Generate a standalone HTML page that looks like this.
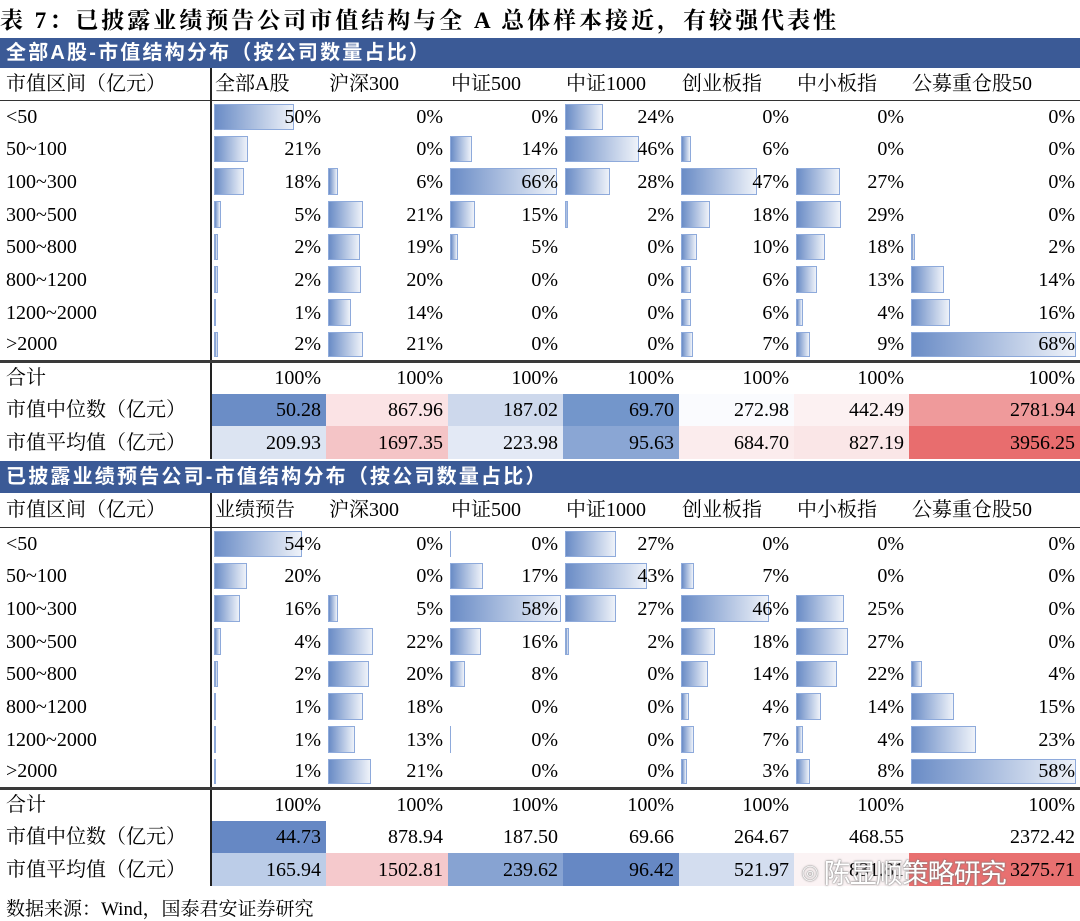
<!DOCTYPE html>
<html><head><meta charset="utf-8">
<style>
*{margin:0;padding:0;box-sizing:border-box}
body{width:1080px;height:919px;background:#fff;position:relative;overflow:hidden;font-family:"Liberation Serif","Noto Serif CJK SC",serif;color:#000}
.title{position:absolute;left:0;top:2px;font-size:23px;font-weight:bold;letter-spacing:3px;white-space:nowrap;font-family:"Liberation Serif","Noto Serif CJK SC",serif}
.bar{position:absolute;left:0;width:1080px;background:#3b5a96;color:#fff;font-size:20px;font-weight:bold;letter-spacing:2.2px;padding-left:6px;font-family:"Liberation Sans","Noto Sans CJK SC",sans-serif;white-space:nowrap}
table{position:absolute;left:0;border-collapse:collapse;table-layout:fixed;width:1080px;font-size:20px}
td{padding:0 5px 0 0;text-align:right;white-space:nowrap;position:relative;vertical-align:middle;line-height:20px}
td.l{text-align:left;padding-left:6px;border-right:2px solid #222}
td.h{text-align:left;padding-left:3px}
tr.hd td{border-bottom:1.5px solid #333}
tr.last td{border-bottom:3px solid #3a3a3a}
td i{position:absolute;left:2px;top:3px;bottom:3px;background:linear-gradient(to right,#6a8cc6,#eef2f9);border:1px solid #8eaadb;z-index:0}
td span{position:relative;z-index:1}
.wm{position:absolute;left:802px;top:852px;font-size:27px;color:#fff;font-family:"Liberation Sans","Noto Sans CJK SC",sans-serif;text-shadow:0 0 1px #777,0 0 2px #777;letter-spacing:-1px}
.src{position:absolute;left:6px;top:894px;font-size:19px;white-space:nowrap}
</style></head><body>
<div class="title">表 7：已披露业绩预告公司市值结构与全 A 总体样本接近，有较强代表性</div>

<div class="bar" style="top:38px;height:30px;line-height:30px">全部A股-市值结构分布（按公司数量占比）</div>
<table style="top:68px">
<colgroup><col style="width:211px"><col style="width:115px"><col style="width:122px"><col style="width:115px"><col style="width:116px"><col style="width:115px"><col style="width:115px"><col style="width:171px"></colgroup>
<tr class="hd" style="height:32px"><td class="l">市值区间（亿元）</td><td class="h">全部A股</td><td class="h">沪深300</td><td class="h">中证500</td><td class="h">中证1000</td><td class="h">创业板指</td><td class="h">中小板指</td><td class="h">公募重仓股50</td></tr>
<tr style="height:33px"><td class="l">&lt;50</td><td><i style="width:80px"></i><span>50%</span></td><td><span>0%</span></td><td><span>0%</span></td><td><i style="width:38px"></i><span>24%</span></td><td><span>0%</span></td><td><span>0%</span></td><td><span>0%</span></td></tr>
<tr style="height:32px"><td class="l">50~100</td><td><i style="width:34px"></i><span>21%</span></td><td><span>0%</span></td><td><i style="width:22px"></i><span>14%</span></td><td><i style="width:74px"></i><span>46%</span></td><td><i style="width:10px"></i><span>6%</span></td><td><span>0%</span></td><td><span>0%</span></td></tr>
<tr style="height:33px"><td class="l">100~300</td><td><i style="width:30px"></i><span>18%</span></td><td><i style="width:10px"></i><span>6%</span></td><td><i style="width:107px"></i><span>66%</span></td><td><i style="width:45px"></i><span>28%</span></td><td><i style="width:76px"></i><span>47%</span></td><td><i style="width:44px"></i><span>27%</span></td><td><span>0%</span></td></tr>
<tr style="height:33px"><td class="l">300~500</td><td><i style="width:7px"></i><span>5%</span></td><td><i style="width:35px"></i><span>21%</span></td><td><i style="width:25px"></i><span>15%</span></td><td><i style="width:3px"></i><span>2%</span></td><td><i style="width:29px"></i><span>18%</span></td><td><i style="width:45px"></i><span>29%</span></td><td><span>0%</span></td></tr>
<tr style="height:32px"><td class="l">500~800</td><td><i style="width:4px"></i><span>2%</span></td><td><i style="width:32px"></i><span>19%</span></td><td><i style="width:8px"></i><span>5%</span></td><td><span>0%</span></td><td><i style="width:16px"></i><span>10%</span></td><td><i style="width:29px"></i><span>18%</span></td><td><i style="width:4px"></i><span>2%</span></td></tr>
<tr style="height:33px"><td class="l">800~1200</td><td><i style="width:4px"></i><span>2%</span></td><td><i style="width:33px"></i><span>20%</span></td><td><span>0%</span></td><td><span>0%</span></td><td><i style="width:10px"></i><span>6%</span></td><td><i style="width:21px"></i><span>13%</span></td><td><i style="width:33px"></i><span>14%</span></td></tr>
<tr style="height:33px"><td class="l">1200~2000</td><td><i style="width:2px"></i><span>1%</span></td><td><i style="width:23px"></i><span>14%</span></td><td><span>0%</span></td><td><span>0%</span></td><td><i style="width:10px"></i><span>6%</span></td><td><i style="width:7px"></i><span>4%</span></td><td><i style="width:39px"></i><span>16%</span></td></tr>
<tr class="last" style="height:32px"><td class="l">&gt;2000</td><td><i style="width:4px"></i><span>2%</span></td><td><i style="width:35px"></i><span>21%</span></td><td><span>0%</span></td><td><span>0%</span></td><td><i style="width:12px"></i><span>7%</span></td><td><i style="width:14px"></i><span>9%</span></td><td><i style="width:165px"></i><span>68%</span></td></tr>
<tr style="height:33px"><td class="l">合计</td><td>100%</td><td>100%</td><td>100%</td><td>100%</td><td>100%</td><td>100%</td><td>100%</td></tr>
<tr style="height:32px"><td class="l">市值中位数（亿元）</td><td style="background:#6b8dc6">50.28</td><td style="background:#fbe3e5">867.96</td><td style="background:#cdd8ec">187.02</td><td style="background:#7396cb">69.70</td><td style="background:#fafbfe">272.98</td><td style="background:#fcf1f2">442.49</td><td style="background:#ef9a9b">2781.94</td></tr>
<tr style="height:33px"><td class="l">市值平均值（亿元）</td><td style="background:#dce4f2">209.93</td><td style="background:#f4c4c6">1697.35</td><td style="background:#e3e9f5">223.98</td><td style="background:#8aa6d4">95.63</td><td style="background:#fbeced">684.70</td><td style="background:#fae6e7">827.19</td><td style="background:#e86d6e">3956.25</td></tr>
</table>

<div class="bar" style="top:461px;height:32px;line-height:32px">已披露业绩预告公司-市值结构分布（按公司数量占比）</div>
<table style="top:493px">
<colgroup><col style="width:211px"><col style="width:115px"><col style="width:122px"><col style="width:115px"><col style="width:116px"><col style="width:115px"><col style="width:115px"><col style="width:171px"></colgroup>
<tr class="hd" style="height:34px"><td class="l">市值区间（亿元）</td><td class="h">业绩预告</td><td class="h">沪深300</td><td class="h">中证500</td><td class="h">中证1000</td><td class="h">创业板指</td><td class="h">中小板指</td><td class="h">公募重仓股50</td></tr>
<tr style="height:33px"><td class="l">&lt;50</td><td><i style="width:88px"></i><span>54%</span></td><td><span>0%</span></td><td><i style="width:1px;border-width:0 0 0 1px"></i><span>0%</span></td><td><i style="width:51px"></i><span>27%</span></td><td><span>0%</span></td><td><span>0%</span></td><td><span>0%</span></td></tr>
<tr style="height:32px"><td class="l">50~100</td><td><i style="width:33px"></i><span>20%</span></td><td><span>0%</span></td><td><i style="width:33px"></i><span>17%</span></td><td><i style="width:82px"></i><span>43%</span></td><td><i style="width:13px"></i><span>7%</span></td><td><span>0%</span></td><td><span>0%</span></td></tr>
<tr style="height:33px"><td class="l">100~300</td><td><i style="width:26px"></i><span>16%</span></td><td><i style="width:10px"></i><span>5%</span></td><td><i style="width:111px"></i><span>58%</span></td><td><i style="width:51px"></i><span>27%</span></td><td><i style="width:88px"></i><span>46%</span></td><td><i style="width:48px"></i><span>25%</span></td><td><span>0%</span></td></tr>
<tr style="height:33px"><td class="l">300~500</td><td><i style="width:7px"></i><span>4%</span></td><td><i style="width:45px"></i><span>22%</span></td><td><i style="width:31px"></i><span>16%</span></td><td><i style="width:4px"></i><span>2%</span></td><td><i style="width:34px"></i><span>18%</span></td><td><i style="width:52px"></i><span>27%</span></td><td><span>0%</span></td></tr>
<tr style="height:32px"><td class="l">500~800</td><td><i style="width:4px"></i><span>2%</span></td><td><i style="width:41px"></i><span>20%</span></td><td><i style="width:15px"></i><span>8%</span></td><td><span>0%</span></td><td><i style="width:27px"></i><span>14%</span></td><td><i style="width:41px"></i><span>22%</span></td><td><i style="width:11px"></i><span>4%</span></td></tr>
<tr style="height:33px"><td class="l">800~1200</td><td><i style="width:2px"></i><span>1%</span></td><td><i style="width:35px"></i><span>18%</span></td><td><span>0%</span></td><td><span>0%</span></td><td><i style="width:8px"></i><span>4%</span></td><td><i style="width:25px"></i><span>14%</span></td><td><i style="width:43px"></i><span>15%</span></td></tr>
<tr style="height:33px"><td class="l">1200~2000</td><td><i style="width:2px"></i><span>1%</span></td><td><i style="width:27px"></i><span>13%</span></td><td><i style="width:1px;border-width:0 0 0 1px"></i><span>0%</span></td><td><span>0%</span></td><td><i style="width:13px"></i><span>7%</span></td><td><i style="width:7px"></i><span>4%</span></td><td><i style="width:65px"></i><span>23%</span></td></tr>
<tr class="last" style="height:32px"><td class="l">&gt;2000</td><td><i style="width:2px"></i><span>1%</span></td><td><i style="width:43px"></i><span>21%</span></td><td><span>0%</span></td><td><span>0%</span></td><td><i style="width:6px"></i><span>3%</span></td><td><i style="width:14px"></i><span>8%</span></td><td><i style="width:165px"></i><span>58%</span></td></tr>
<tr style="height:33px"><td class="l">合计</td><td>100%</td><td>100%</td><td>100%</td><td>100%</td><td>100%</td><td>100%</td><td>100%</td></tr>
<tr style="height:32px"><td class="l">市值中位数（亿元）</td><td style="background:#6688c4">44.73</td><td>878.94</td><td>187.50</td><td>69.66</td><td>264.67</td><td>468.55</td><td>2372.42</td></tr>
<tr style="height:33px"><td class="l">市值平均值（亿元）</td><td style="background:#bccde8">165.94</td><td style="background:#f5c9cc">1502.81</td><td style="background:#87a3d2">239.62</td><td style="background:#6688c4">96.42</td><td style="background:#d3ddef">521.97</td><td style="background:#fbf3f4">831.81</td><td style="background:#e87070">3275.71</td></tr>
</table>
<div class="wm">⌾ 陈显顺策略研究</div>
<div class="src">数据来源：Wind，国泰君安证券研究</div>
</body></html>
